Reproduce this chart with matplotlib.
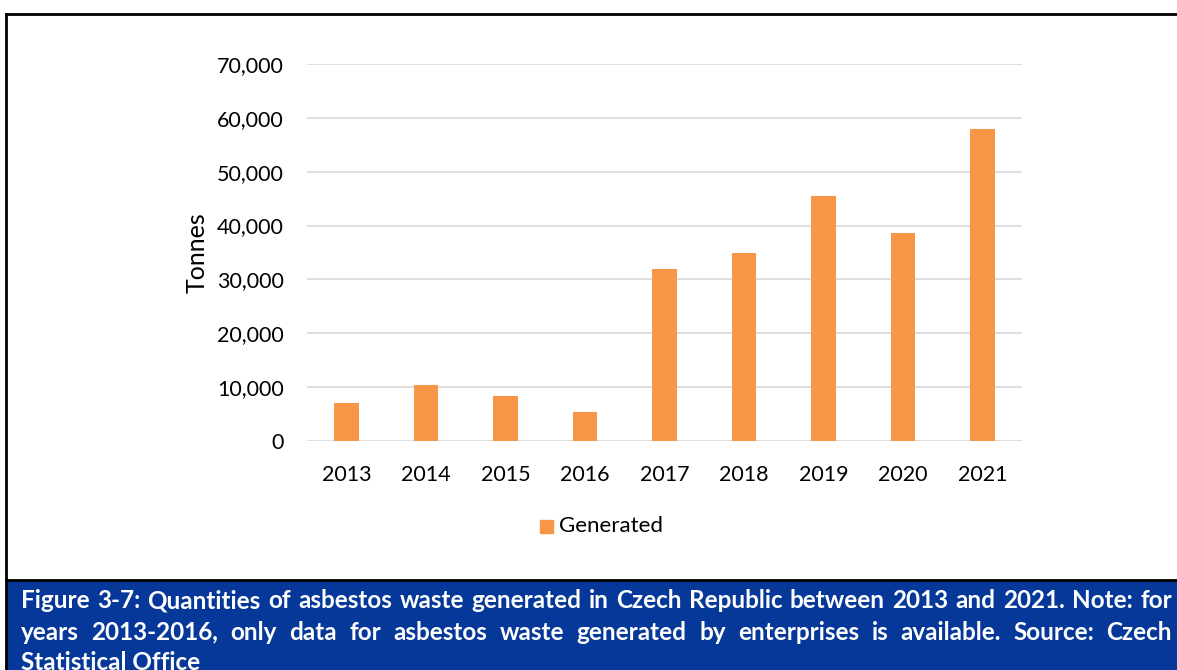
import matplotlib.pyplot as plt
from matplotlib.patches import Rectangle
from matplotlib.ticker import FuncFormatter
from matplotlib.lines import Line2D

years = ["2013", "2014", "2015", "2016", "2017", "2018", "2019", "2020", "2021"]
generated = [7000, 10400, 8350, 5450, 31900, 34900, 45400, 38600, 57900]
y_ticks = [0, 10000, 20000, 30000, 40000, 50000, 60000, 70000]

caption_lines = [
    "Figure 3-7: Quantities of asbestos waste generated in Czech Republic between 2013 and 2021. Note: for",
    "years 2013-2016, only data for asbestos waste generated by enterprises is available. Source: Czech",
    "Statistical Office",
]

W, H = 1177, 670
orange = "#F79646"
blue = "#06389A"
font = "Lato"

fig = plt.figure(figsize=(W / 100, H / 100), dpi=100)
fig.patch.set_facecolor("white")

# chart area in pixel coordinates
left, right, top, bottom = 307, 1022, 64, 441
ax = fig.add_axes([left / W, 1 - bottom / H, (right - left) / W, (bottom - top) / H])
x = range(len(years))
ax.bar(x, generated, width=0.31, color=orange, zorder=3)
ax.set_xlim(-0.5, len(years) - 0.5)
ax.set_ylim(0, 70000)
ax.set_yticks(y_ticks)
ax.yaxis.set_major_formatter(FuncFormatter(lambda v, p: f"{int(v):,}"))
ax.set_xticks(list(x))
ax.set_xticklabels(years)
ax.grid(axis="y", color="#D9D9D9", linewidth=1.2, zorder=0)
for s in ax.spines.values():
    s.set_visible(False)
ax.tick_params(length=0, labelsize=15.5, colors="black")
ax.tick_params(axis="y", pad=16.5)
ax.tick_params(axis="x", pad=17)
for lab in ax.get_xticklabels() + ax.get_yticklabels():
    lab.set_fontfamily(font)
ax.set_ylabel("Tonnes", fontsize=18, fontfamily=font, labelpad=6)

# legend
fig.patches.append(Rectangle((540 / W, 1 - 533 / H), 13 / W, 13 / H,
                             transform=fig.transFigure, color=orange))
fig.text(559 / W, 1 - 526 / H, "Generated", fontsize=16, fontfamily=font,
         va="center", ha="left")

# outer frame
fig.add_artist(Line2D([6 / W, 6 / W], [1 - 14 / H, 0], color="black", lw=2, transform=fig.transFigure))
fig.add_artist(Line2D([6 / W, 1], [1 - 14 / H, 1 - 14 / H], color="black", lw=2, transform=fig.transFigure))

# caption box
fig.patches.append(Rectangle((6 / W, 0), 1 - 6 / W, 1 - 581 / H,
                             transform=fig.transFigure, color=blue, zorder=1))
fig.add_artist(Line2D([6 / W, 1], [1 - 580 / H, 1 - 580 / H], color="black", lw=2, transform=fig.transFigure))

fig.canvas.draw()
renderer = fig.canvas.get_renderer()
x0, x1 = 21, 1172
line_y = [601, 632, 662]
cap_kw = dict(color="white", fontsize=17.5, fontweight="bold", fontfamily=font,
              va="center", ha="left")
for i, line in enumerate(caption_lines):
    words = line.split(" ")
    y = 1 - line_y[i] / H
    if i == len(caption_lines) - 1:
        fig.text(x0 / W, y, line, **cap_kw)
        continue
    # justified line: spread the words evenly between the margins
    texts = [fig.text(0, y, w, **cap_kw) for w in words]
    widths = [t.get_window_extent(renderer).width for t in texts]
    gap = (x1 - x0 - sum(widths)) / (len(words) - 1)
    pos = x0
    for t, w in zip(texts, widths):
        t.set_x(pos / W)
        pos += w + gap

fig.savefig("out.png", dpi=100)
